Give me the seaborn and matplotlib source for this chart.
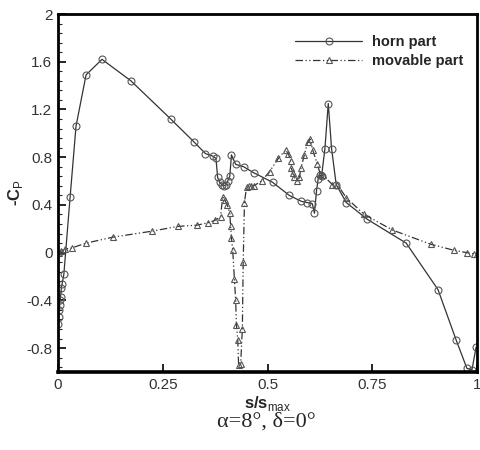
import matplotlib
matplotlib.use("Agg")
import matplotlib.pyplot as plt
import seaborn as sns
import pandas as pd

# ---- data ----
horn_s = [0.000, 0.002, 0.003, 0.004, 0.005, 0.006, 0.008, 0.010, 0.014, 0.029, 0.043, 0.067,
          0.105, 0.174, 0.269, 0.324, 0.352, 0.369, 0.377, 0.381, 0.386, 0.391, 0.396, 0.401,
          0.405, 0.410, 0.414, 0.424, 0.443, 0.467, 0.512, 0.552, 0.581, 0.595, 0.607, 0.612,
          0.617, 0.621, 0.625, 0.629, 0.637, 0.645, 0.653, 0.664, 0.688, 0.738, 0.831, 0.907,
          0.950, 0.976, 0.988, 0.998]
horn_cp = [-0.60, -0.54, -0.48, -0.44, -0.40, -0.37, -0.30, -0.26, -0.18, 0.47, 1.06, 1.49,
           1.62, 1.44, 1.12, 0.93, 0.83, 0.81, 0.79, 0.63, 0.59, 0.57, 0.56, 0.57,
           0.60, 0.64, 0.82, 0.74, 0.72, 0.67, 0.59, 0.48, 0.43, 0.42, 0.41, 0.33,
           0.52, 0.62, 0.65, 0.64, 0.87, 1.25, 0.87, 0.57, 0.42, 0.28, 0.08, -0.31,
           -0.73, -0.97, -0.98, -0.79]

mov_s = [0.000, 0.003, 0.006, 0.017, 0.033, 0.067, 0.131, 0.224, 0.286, 0.331, 0.357, 0.374,
         0.388, 0.393, 0.398, 0.404, 0.410, 0.412, 0.414, 0.417, 0.421, 0.424, 0.426, 0.429,
         0.431, 0.436, 0.440, 0.442, 0.445, 0.450, 0.455, 0.460, 0.467, 0.486, 0.505, 0.526,
         0.543, 0.550, 0.555, 0.557, 0.560, 0.564, 0.571, 0.576, 0.580, 0.588, 0.596, 0.602,
         0.608, 0.619, 0.626, 0.632, 0.655, 0.667, 0.688, 0.731, 0.798, 0.890, 0.945, 0.976,
         0.993, 1.000]
mov_cp = [0.00, 0.00, 0.01, 0.03, 0.04, 0.08, 0.13, 0.18, 0.22, 0.23, 0.25, 0.27,
          0.30, 0.47, 0.44, 0.40, 0.33, 0.22, 0.12, 0.02, -0.22, -0.40, -0.61, -0.73,
          -0.94, -0.93, -0.64, -0.08, 0.42, 0.55, 0.56, 0.56, 0.56, 0.60, 0.68, 0.79,
          0.86, 0.83, 0.77, 0.71, 0.67, 0.63, 0.60, 0.63, 0.71, 0.82, 0.93, 0.95,
          0.86, 0.74, 0.66, 0.65, 0.57, 0.57, 0.46, 0.32, 0.19, 0.07, 0.02, 0.00,
          -0.01, -0.01]

series_labels = ["horn part", "movable part"]
x_ticks = [0, 0.25, 0.5, 0.75, 1]
x_ticklabels = ["0", "0.25", "0.5", "0.75", "1"]
y_ticks = [-0.8, -0.4, 0, 0.4, 0.8, 1.2, 1.6, 2.0]
y_ticklabels = ["-0.8", "-0.4", "0", "0.4", "0.8", "1.2", "1.6", "2"]

sns.set_style("ticks")
plt.rcParams["font.family"] = ["Liberation Sans", "DejaVu Sans"]
plt.rcParams["mathtext.fontset"] = "custom"
plt.rcParams["mathtext.rm"] = "Liberation Sans"

fig = plt.figure(figsize=(4.8, 4.5), dpi=100)
ax = fig.add_axes([58 / 480, 1 - 372 / 450, (477 - 58) / 480, (372 - 14) / 450])

horn_df = pd.DataFrame({"s": horn_s, "cp": horn_cp})
mov_df = pd.DataFrame({"s": mov_s, "cp": mov_cp})

sns.lineplot(data=horn_df, x="s", y="cp", sort=False, estimator=None, ax=ax,
             color="#333333", linewidth=0.9, marker="o", markersize=5,
             markerfacecolor="none", markeredgecolor="#555555", markeredgewidth=0.8,
             label=series_labels[0])
sns.lineplot(data=mov_df, x="s", y="cp", sort=False, estimator=None, ax=ax,
             color="#333333", linewidth=0.9, marker="^", markersize=5,
             markerfacecolor="none", markeredgecolor="#555555", markeredgewidth=0.8,
             linestyle=(0, (6, 2, 1, 2, 1, 2)),
             label=series_labels[1])

ax.set_xlim(0, 1)
ax.set_ylim(-1, 2)
ax.set_xticks(x_ticks)
ax.set_xticklabels(x_ticklabels)
ax.set_yticks(y_ticks)
ax.set_yticklabels(y_ticklabels)
ax.set_yticks([v / 100 for v in range(-96, 200, 8)], minor=True)

ax.tick_params(axis="both", which="major", direction="in", length=6, width=1.2,
               labelsize=11, pad=4, colors="black", labelcolor="#333333")
ax.tick_params(axis="y", which="minor", direction="in", length=3, width=0.8)
ax.tick_params(top=False, right=False)

for side in ["left", "right", "top", "bottom"]:
    ax.spines[side].set_visible(True)
    ax.spines[side].set_color("black")
    ax.spines[side].set_linewidth(2)
ax.spines["bottom"].set_linewidth(2.6)

ax.set_xlabel("s/s$_{\\mathrm{max}}$", fontsize=12, fontweight="bold", labelpad=2)
ax.set_ylabel("-C$_{\\mathrm{P}}$", fontsize=12, fontweight="bold", labelpad=1)

leg = ax.legend(loc="upper left", bbox_to_anchor=(295 / 480, 1 - 35 / 450),
                bbox_transform=fig.transFigure, frameon=False,
                prop={"weight": "bold", "size": 10.5}, handlelength=4.6,
                handletextpad=0.7, labelspacing=0.35, borderpad=0, borderaxespad=0)

fig.text(266 / 480, 1 - 422 / 450, "\u03b1=8\u00b0, \u03b4=0\u00b0",
         ha="center", va="center", fontsize=16, family=["Liberation Serif", "DejaVu Serif"])

fig.savefig("out.png", dpi=100)
